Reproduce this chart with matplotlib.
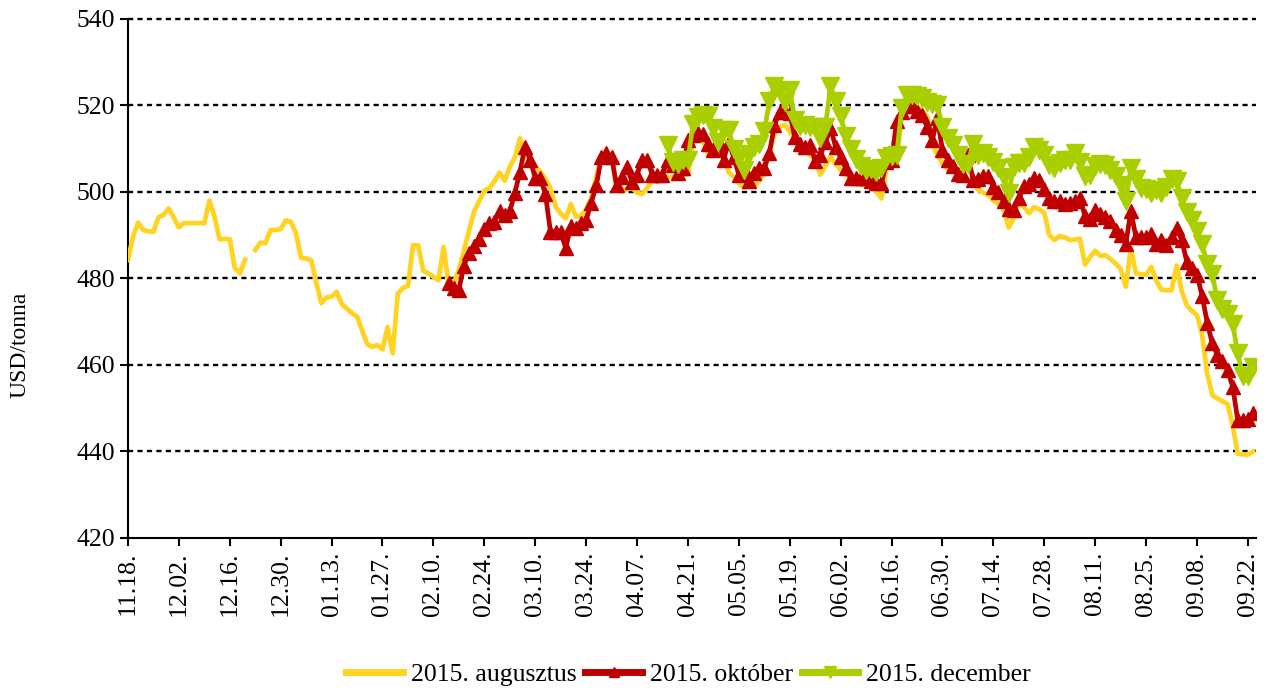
import matplotlib.pyplot as plt
import numpy as np

# tick labels, every 10th trading day
tick_labels = ['11.18.', '12.02.', '12.16.', '12.30.', '01.13.', '01.27.', '02.10.', '02.24.',
               '03.10.', '03.24.', '04.07.', '04.21.', '05.05.', '05.19.', '06.02.', '06.16.',
               '06.30.', '07.14.', '07.28.', '08.11.', '08.25.', '09.08.', '09.22.']

nan = np.nan

# 2015. augusztus (whole period, one missing day around christmas)
aug = [484.3, 489.7, 492.9, 491.2, 490.9, 490.8, 494.2, 494.7, 496.2, 494.1,
       491.8, 492.8, 492.8, 492.8, 492.8, 492.8, 498.0, 494.3, 489.1, 489.1,
       489.1, 482.4, 481.2, 484.3, nan, 486.6, 488.3, 488.1, 491.2, 491.2,
       491.4, 493.4, 493.1, 490.5, 484.8, 484.6, 484.2, 479.0, 474.3, 475.6,
       475.8, 476.9, 474.1, 473.0, 472.0, 471.2, 468.0, 464.8, 464.2, 464.6,
       463.6, 468.8, 462.7, 476.5, 477.8, 478.3, 487.7, 487.7, 481.8, 481.2,
       480.4, 479.6, 487.3, 478.3, 478.9, 482.0, 486.5, 491.0, 495.5, 497.9,
       500.3, 500.9, 502.5, 504.5, 502.6, 505.8, 508.0, 512.4, 508.5, 507.5,
       506.0, 504.7, 503.0, 500.9, 496.6, 495.0, 493.9, 497.2, 494.3, 494.5,
       496.0, 498.5, 503.5, 508.3, 508.8, 508.8, 500.3, 500.2, 500.7, 501.0,
       499.8, 499.5, 501.0, 502.8, 502.4, 503.0, 503.5, 503.5, 503.8, 504.0,
       504.0, 511.5, 512.5, 511.5, 508.6, 508.6, 510.5, 508.0, 504.5, 503.5,
       502.0, 501.0, 501.2, 501.6, 502.5, 505.0, 509.0, 513.5, 515.1, 515.5,
       514.0, 512.0, 509.3, 509.3, 508.5, 507.4, 504.0, 506.0, 508.2, 506.5,
       505.1, 504.0, 503.2, 502.5, 501.6, 501.5, 501.0, 500.1, 498.5, 505.5,
       506.5, 507.4, 517.5, 519.0, 519.5, 519.8, 518.8, 517.5, 511.0, 508.5,
       506.6, 505.3, 505.0, 504.0, 503.3, 502.8, 502.4, 500.5, 499.8, 499.3,
       498.0, 497.2, 496.0, 491.8, 494.0, 497.6, 496.5, 495.1, 496.5, 496.0,
       495.2, 490.0, 488.9, 489.8, 489.5, 488.9, 489.0, 489.2, 483.2, 485.0,
       486.4, 485.2, 485.4, 484.5, 483.5, 482.2, 478.1, 487.0, 481.2, 481.0,
       480.8, 482.7, 479.5, 477.4, 477.3, 477.3, 483.0, 477.0, 473.8, 472.5,
       471.5, 467.0, 458.0, 453.0, 452.3, 451.6, 451.0, 446.0, 439.5, 439.3,
       439.3, 440.0]

# 2015. október, starts later
okt_start = 63
okt = [478.9, 477.8, 477.4, 483.0, 486.0, 487.5, 489.2, 491.5, 492.9, 493.1,
       495.6, 494.7, 495.5, 499.8, 504.7, 510.5, 507.5, 503.3, 503.3, 499.5,
       490.8, 490.8, 490.8, 487.0, 492.2, 491.6, 492.8, 493.5, 497.5, 501.5,
       508.0, 509.0, 508.0, 501.5, 503.5, 505.8, 502.4, 504.0, 507.4, 507.4,
       504.0, 504.0, 504.0, 507.4, 506.2, 504.5, 505.5, 512.0, 513.2, 513.6,
       513.5, 511.0, 509.7, 512.0, 507.5, 511.5, 508.0, 504.0, 505.5, 502.6,
       504.5, 505.5, 505.5, 509.0, 515.5, 518.6, 518.4, 518.2, 512.6, 511.0,
       510.5, 510.9, 507.2, 508.5, 511.5, 514.7, 510.5, 508.0, 505.5, 503.2,
       503.2, 503.2, 503.2, 502.5, 502.0, 502.0, 507.0, 507.4, 516.3, 518.5,
       519.8, 519.8, 518.8, 517.8, 515.0, 512.0, 517.0, 509.7, 507.5, 506.0,
       504.2, 504.0, 508.6, 502.8, 503.0, 503.6, 503.8, 501.2, 500.0, 497.8,
       496.0, 495.8, 498.5, 501.3, 501.8, 503.2, 502.8, 500.8, 498.5, 497.8,
       498.0, 497.2, 497.5, 497.8, 498.5, 494.5, 493.8, 495.8, 495.0, 494.3,
       493.3, 491.2, 490.0, 488.0, 495.5, 489.6, 489.5, 489.6, 490.3, 488.0,
       488.9, 487.7, 489.5, 491.6, 488.9, 483.8, 482.5, 480.8, 476.0, 469.8,
       465.0, 462.3, 461.0, 458.8, 455.0, 447.3, 447.3, 447.5, 448.8]

# 2015. december, starts in april
dec_start = 106
dec = [510.9, 507.0, 506.5, 507.4, 507.4, 515.8, 517.4, 517.8, 517.6, 514.7,
       511.5, 514.3, 514.3, 510.0, 507.8, 505.0, 508.7, 510.5, 511.2, 514.0,
       521.0, 524.6, 523.4, 520.8, 523.6, 516.6, 515.3, 515.5, 515.1, 515.1,
       512.5, 515.1, 524.4, 521.0, 517.5, 513.0, 510.0, 507.6, 505.9, 505.1,
       505.4, 504.6, 505.5, 507.8, 508.3, 508.6, 519.4, 522.4, 522.4, 522.2,
       521.7, 520.8, 520.3, 520.1, 515.0, 512.5, 510.8, 508.5, 506.5, 506.5,
       511.2, 508.5, 509.0, 508.2, 507.0, 505.6, 503.5, 499.7, 505.8, 506.6,
       506.8, 508.0, 510.5, 509.6, 508.5, 506.3, 505.5, 506.7, 507.4, 507.4,
       509.0, 507.0, 503.8, 504.0, 506.0, 506.4, 506.2, 505.0, 503.8, 501.5,
       497.8, 505.5, 503.0, 501.0, 500.8, 499.8, 500.5, 499.8, 501.2, 503.0,
       502.5, 498.5, 495.3, 493.5, 491.0, 488.0, 483.3, 481.0, 475.0, 473.0,
       471.9, 469.5, 462.7, 457.5, 457.5, 459.6]

plt.rcParams['font.family'] = ['Liberation Serif', 'DejaVu Serif']

fig = plt.figure(figsize=(12.68, 6.9), dpi=100)
ax = fig.add_axes([0.1009, 0.2203, 0.8893, 0.7522])

x_aug = np.arange(len(aug))
x_okt = np.arange(len(okt)) + okt_start
x_dec = np.arange(len(dec)) + dec_start

ax.plot(x_aug, aug, color='#FFD320', lw=3.4, label='2015. augusztus', zorder=3)
ax.plot(x_okt, okt, color='#C00000', lw=3.4, marker='^', markersize=10.5,
        label='2015. október', zorder=4)
ax.plot(x_dec, dec, color='#AACF00', lw=3.4, marker='v', markersize=12.5,
        label='2015. december', zorder=5)

# axes
ax.set_ylim(420, 540)
ax.set_yticks(np.arange(420, 541, 20))
ax.set_xlim(0, 221.5)
ax.set_xticks(np.arange(0, 221, 10))
ax.set_xticklabels(tick_labels, rotation=90)
ax.tick_params(axis='both', labelsize=18.5, direction='out', length=6, width=1.5)

# dotted horizontal grid
for y in range(440, 541, 20):
    ax.axhline(y, color='black', lw=1.7, linestyle=(0, (2.2, 1.8)), zorder=1, clip_on=False)

ax.spines['top'].set_visible(False)
ax.spines['right'].set_visible(False)
ax.spines['left'].set_linewidth(1.5)
ax.spines['bottom'].set_linewidth(1.5)

fig.text(0.016, 0.5, 'USD/tonna', rotation=90, va='center', ha='center', fontsize=17)

leg = fig.legend(loc='lower center', bbox_to_anchor=(0.543, -0.028), ncol=3, frameon=False,
                 fontsize=18.5, handlelength=2.2, handletextpad=0.3, columnspacing=0.35,
                 numpoints=1, markerscale=0.7)
for line in leg.get_lines():
    line.set_linewidth(5)

fig.savefig('out.png', dpi=100)
